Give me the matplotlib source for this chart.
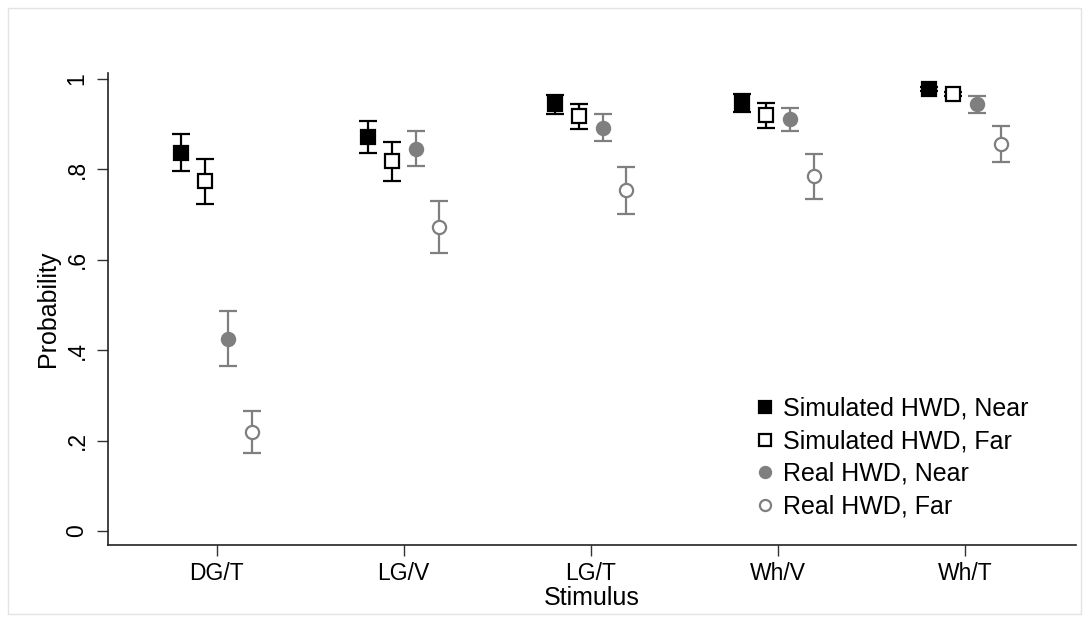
import numpy as np
import matplotlib.pyplot as plt
from matplotlib.patches import Rectangle

plt.rcParams['font.family'] = ['Liberation Sans', 'DejaVu Sans']

## Data
stimuli = ['DG/T', 'LG/V', 'LG/T', 'Wh/V', 'Wh/T']
series = ['Simulated HWD, Near', 'Simulated HWD, Far', 'Real HWD, Near', 'Real HWD, Far']

sim_near = [0.836, 0.872, 0.945, 0.947, 0.978]
sim_near_lo = [0.796, 0.836, 0.923, 0.927, 0.974]
sim_near_hi = [0.878, 0.907, 0.965, 0.967, 0.982]

sim_far = [0.774, 0.819, 0.918, 0.920, 0.967]
sim_far_lo = [0.723, 0.774, 0.889, 0.892, 0.962]
sim_far_hi = [0.823, 0.861, 0.945, 0.947, 0.972]

real_near = [0.425, 0.845, 0.892, 0.912, 0.945]
real_near_lo = [0.365, 0.808, 0.863, 0.885, 0.925]
real_near_hi = [0.487, 0.885, 0.923, 0.936, 0.962]

real_far = [0.219, 0.673, 0.754, 0.785, 0.856]
real_far_lo = [0.173, 0.615, 0.701, 0.735, 0.816]
real_far_hi = [0.265, 0.730, 0.805, 0.834, 0.896]

yticks = [0, 0.2, 0.4, 0.6, 0.8, 1.0]
yticklabels = ['0', '.2', '.4', '.6', '.8', '1']

## Figure
fig = plt.figure(figsize=(10.86, 6.21), dpi=100)
fig.patches.append(Rectangle((0.007, 0.012), 0.988, 0.975, transform=fig.transFigure,
                             fill=False, edgecolor='#e3e3e3', linewidth=1))
ax = fig.add_axes([0.0994, 0.1224, 0.891, 0.760])

x = np.arange(len(stimuli))
step = 0.127
gray = '#7f7f7f'

styles = [
    (sim_near, sim_near_lo, sim_near_hi, 's', 'black', 'black'),
    (sim_far, sim_far_lo, sim_far_hi, 's', 'black', 'white'),
    (real_near, real_near_lo, real_near_hi, 'o', gray, gray),
    (real_far, real_far_lo, real_far_hi, 'o', gray, 'white'),
]

for i, (val, lo, hi, mk, col, face) in enumerate(styles):
    val = np.array(val)
    err = [val - np.array(lo), np.array(hi) - val]
    xs = x + (i - 1.5) * step
    ax.errorbar(xs, val, yerr=err, fmt='none', ecolor=col, elinewidth=1.6,
                capsize=6.5, capthick=1.6, zorder=2)
    ax.plot(xs, val, linestyle='none', marker=mk, markersize=9.5,
            markerfacecolor=face, markeredgecolor=col, markeredgewidth=1.6, zorder=3)

# legend proxies
handles = []
for i, (val, lo, hi, mk, col, face) in enumerate(styles):
    h, = ax.plot([], [], linestyle='none', marker=mk, markersize=8,
                 markerfacecolor=face, markeredgecolor=col, markeredgewidth=1.6)
    handles.append(h)
ax.legend(handles, series, loc='lower right', bbox_to_anchor=(0.962, 0.035),
          frameon=False, fontsize=18, handletextpad=0.3, labelspacing=0.34,
          handlelength=0.9, borderaxespad=0)

ax.set_xlim(-0.58, 4.59)
ax.set_ylim(-0.031, 1.013)
ax.set_xticks(x)
ax.set_xticklabels(stimuli, fontsize=16.5)
ax.set_yticks(yticks)
ax.set_yticklabels(yticklabels, fontsize=16.5, rotation=90, va='center')
ax.set_xlabel('Stimulus', fontsize=18, labelpad=1)
ax.set_ylabel('Probability', fontsize=18, labelpad=4)
ax.tick_params(axis='both', length=8, width=1, color='#333333')
ax.tick_params(axis='x', pad=4)
ax.tick_params(axis='y', pad=6)
for s in ['top', 'right']:
    ax.spines[s].set_visible(False)
for s in ['left', 'bottom']:
    ax.spines[s].set_linewidth(1.2)
    ax.spines[s].set_color('#222222')

fig.savefig('out.png', dpi=100)
